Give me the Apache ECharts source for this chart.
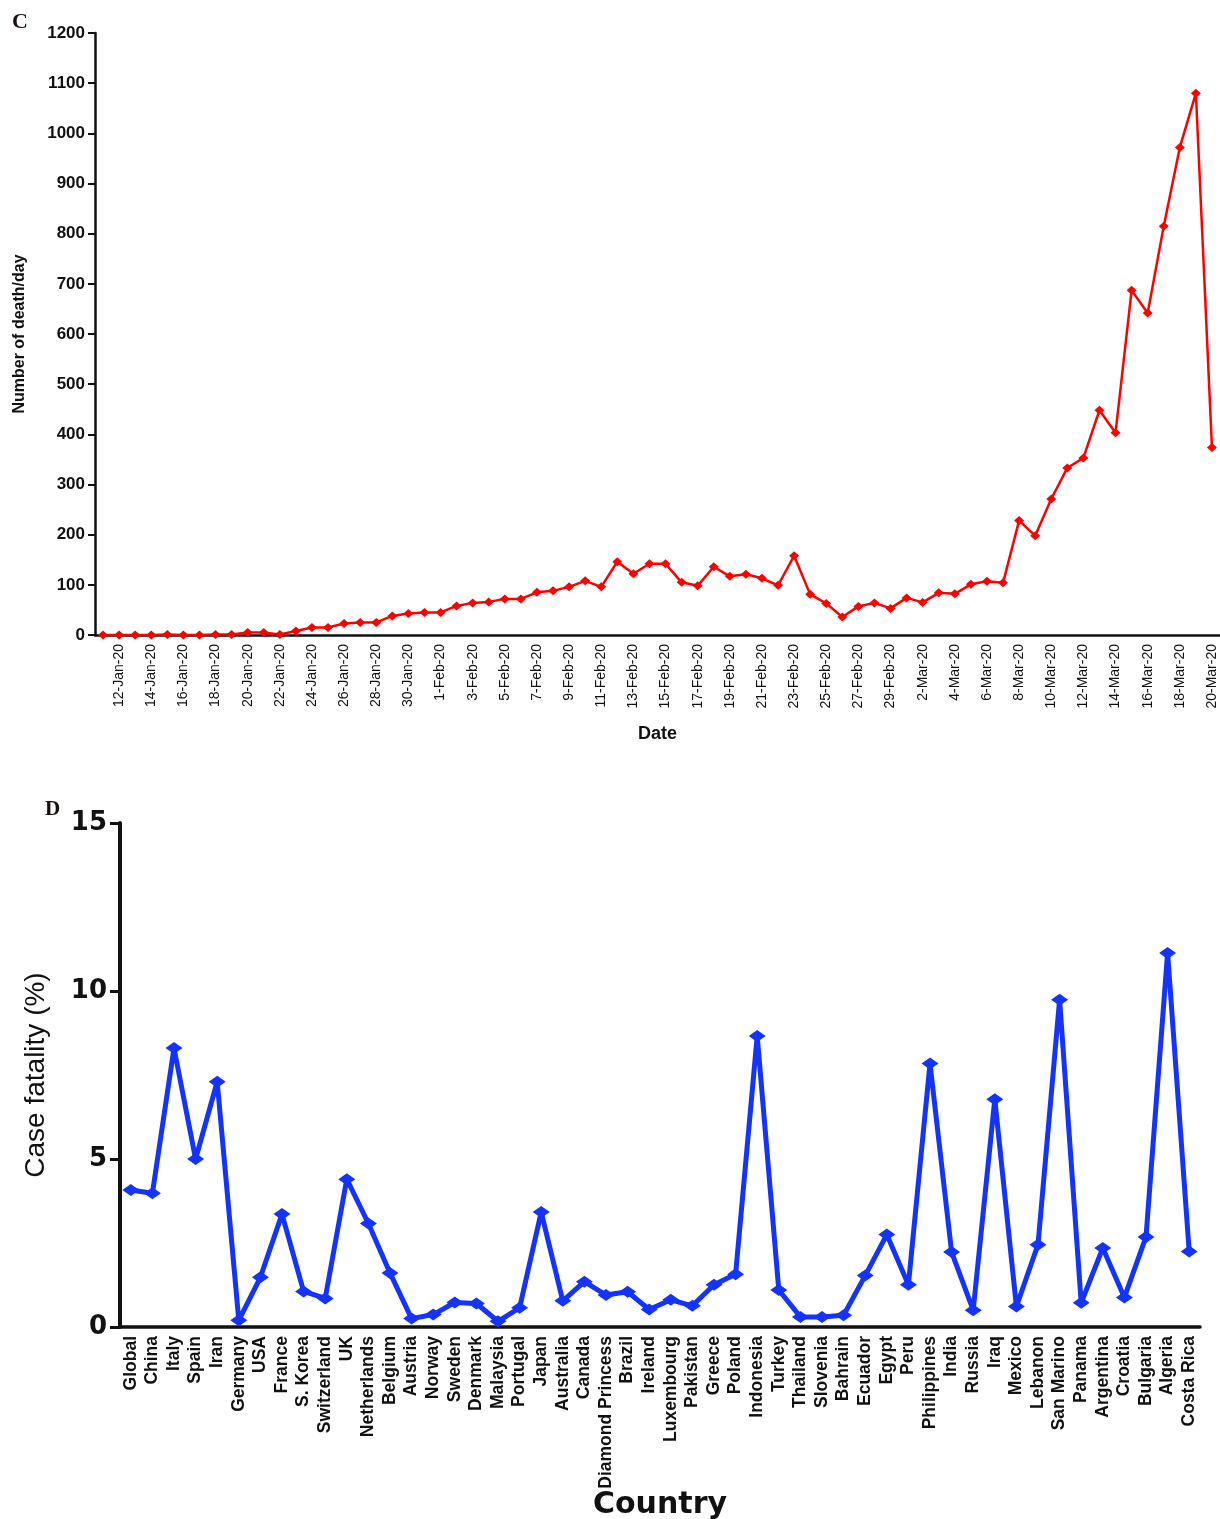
<!DOCTYPE html>
<html>
<head>
<meta charset="utf-8">
<script src="https://cdn.jsdelivr.net/npm/echarts@6/dist/echarts.min.js"></script>
<style>
html,body{margin:0;padding:0;background:#fff;}
#chart{width:1220px;height:1519px;}
</style>
</head>
<body>
<div id="chart"></div>
<script>
// ---- Panel C: daily deaths ----
const dates = ['11-Jan-20','12-Jan-20','13-Jan-20','14-Jan-20','15-Jan-20','16-Jan-20','17-Jan-20','18-Jan-20','19-Jan-20','20-Jan-20',
 '21-Jan-20','22-Jan-20','23-Jan-20','24-Jan-20','25-Jan-20','26-Jan-20','27-Jan-20','28-Jan-20','29-Jan-20','30-Jan-20','31-Jan-20',
 '1-Feb-20','2-Feb-20','3-Feb-20','4-Feb-20','5-Feb-20','6-Feb-20','7-Feb-20','8-Feb-20','9-Feb-20','10-Feb-20',
 '11-Feb-20','12-Feb-20','13-Feb-20','14-Feb-20','15-Feb-20','16-Feb-20','17-Feb-20','18-Feb-20','19-Feb-20','20-Feb-20',
 '21-Feb-20','22-Feb-20','23-Feb-20','24-Feb-20','25-Feb-20','26-Feb-20','27-Feb-20','28-Feb-20','29-Feb-20',
 '1-Mar-20','2-Mar-20','3-Mar-20','4-Mar-20','5-Mar-20','6-Mar-20','7-Mar-20','8-Mar-20','9-Mar-20','10-Mar-20',
 '11-Mar-20','12-Mar-20','13-Mar-20','14-Mar-20','15-Mar-20','16-Mar-20','17-Mar-20','18-Mar-20','19-Mar-20','20-Mar-20'];
const deaths = [0,0,0,0,1,0,0,1,1,5,
 5,1,8,15,15,23,25,25,38,43,45,
 45,58,64,66,72,72,85,88,96,108,
 96,146,122,142,142,105,98,136,117,121,
 113,99,158,81,63,36,57,64,53,
 74,65,84,82,101,107,104,228,198,271,
 333,353,448,403,687,642,815,972,1080,374];

// ---- Panel D: case fatality ----
const countries = ['Global','China','Italy','Spain','Iran','Germany','USA','France','S. Korea','Switzerland',
 'UK','Netherlands','Belgium','Austria','Norway','Sweden','Denmark','Malaysia','Portugal','Japan',
 'Australia','Canada','Diamond Princess','Brazil','Ireland','Luxembourg','Pakistan','Greece','Poland','Indonesia',
 'Turkey','Thailand','Slovenia','Bahrain','Ecuador','Egypt','Peru','Philippines','India','Russia',
 'Iraq','Mexico','Lebanon','San Marino','Panama','Argentina','Croatia','Bulgaria','Algeria','Costa Rica'];
const fatality = [4.08,3.98,8.3,5.0,7.3,0.2,1.48,3.36,1.06,0.85,
 4.4,3.08,1.61,0.25,0.37,0.73,0.7,0.17,0.57,3.42,
 0.78,1.35,0.95,1.05,0.52,0.81,0.63,1.26,1.57,8.66,
 1.1,0.3,0.3,0.35,1.53,2.75,1.26,7.84,2.23,0.5,
 6.78,0.61,2.45,9.74,0.72,2.35,0.88,2.68,11.13,2.25];

const SANS = '"Liberation Sans", Arial, Helvetica, sans-serif';
const chart = echarts.init(document.getElementById('chart'), null, {renderer:'canvas'});
const oddIdx = function(i){ return i % 2 === 1; };
const plain = function(v){ return String(v); };

chart.setOption({
  animation: false,
  backgroundColor: '#ffffff',
  title: [
    {text:'C', left:7, top:6, textStyle:{fontFamily:'"Liberation Serif","Times New Roman",serif', fontWeight:'bold', fontSize:22, color:'#1a0d0d'}},
    {text:'D', left:40, top:794, textStyle:{fontFamily:'"Liberation Serif","Times New Roman",serif', fontWeight:'bold', fontSize:21, color:'#1a0d0d'}}
  ],
  grid: [
    {left:95, top:33, width:1125, height:602, containLabel:false, outerBoundsMode:'none'},
    {left:120, top:823, width:1080, height:504, containLabel:false, outerBoundsMode:'none'}
  ],
  xAxis: [
    {
      type:'category', gridIndex:0, data:dates, boundaryGap:true,
      name:'Date', nameLocation:'middle', nameGap:99, nameMoveOverlap:false,
      nameTextStyle:{fontFamily:SANS, fontWeight:'bold', fontSize:18, color:'#111', verticalAlign:'middle'},
      axisLine:{lineStyle:{color:'#111', width:2.5}},
      axisTick:{alignWithLabel:true, interval:oddIdx, length:6, lineStyle:{color:'#111', width:2}},
      axisLabel:{interval:oddIdx, rotate:90, fontFamily:SANS, fontSize:14, color:'#111', margin:9},
      splitLine:{show:false}
    },
    {
      type:'category', gridIndex:1, data:countries, boundaryGap:true,
      name:'Country', nameLocation:'middle', nameGap:178, nameMoveOverlap:false,
      nameTextStyle:{fontFamily:'"DejaVu Sans", sans-serif', fontWeight:'bold', fontSize:30, color:'#111', verticalAlign:'middle'},
      axisLine:{lineStyle:{color:'#111', width:3.5}},
      axisTick:{alignWithLabel:true, interval:0, length:8, lineStyle:{color:'#111', width:3}},
      axisLabel:{interval:0, rotate:90, fontFamily:SANS, fontWeight:'bold', fontSize:17.5, color:'#111', margin:9},
      splitLine:{show:false}
    }
  ],
  yAxis: [
    {
      type:'value', gridIndex:0, min:0, max:1200, interval:100,
      name:'Number of death/day', nameLocation:'middle', nameGap:75, nameRotate:90, nameMoveOverlap:false,
      nameTextStyle:{fontFamily:SANS, fontWeight:'bold', fontSize:16, color:'#111', verticalAlign:'middle'},
      axisLine:{show:true, lineStyle:{color:'#111', width:2.5}},
      axisTick:{show:true, length:7, lineStyle:{color:'#111', width:2}},
      axisLabel:{formatter:plain, fontFamily:SANS, fontWeight:'bold', fontSize:17, color:'#111', margin:10},
      splitLine:{show:false}
    },
    {
      type:'value', gridIndex:1, min:0, max:15, interval:5,
      name:'Case fatality (%)', nameLocation:'middle', nameGap:84, nameRotate:90, nameMoveOverlap:false,
      nameTextStyle:{fontFamily:SANS, fontSize:28, color:'#111', verticalAlign:'middle'},
      axisLine:{show:true, lineStyle:{color:'#111', width:4}},
      axisTick:{show:true, length:10, lineStyle:{color:'#111', width:3}},
      axisLabel:{formatter:plain, fontFamily:'"DejaVu Sans", sans-serif', fontWeight:'bold', fontSize:26, color:'#111', margin:13},
      splitLine:{show:false}
    }
  ],
  series: [
    {
      type:'line', xAxisIndex:0, yAxisIndex:0, data:deaths,
      symbol:'diamond', symbolSize:[10,9],
      lineStyle:{color:'#ff0000', width:2.5},
      itemStyle:{color:'#ff0000'}
    },
    {
      type:'line', xAxisIndex:1, yAxisIndex:1, data:fatality,
      symbol:'diamond', symbolSize:[17,12],
      lineStyle:{color:'#1433ff', width:5},
      itemStyle:{color:'#1433ff'}
    }
  ]
});
</script>
</body>
</html>
